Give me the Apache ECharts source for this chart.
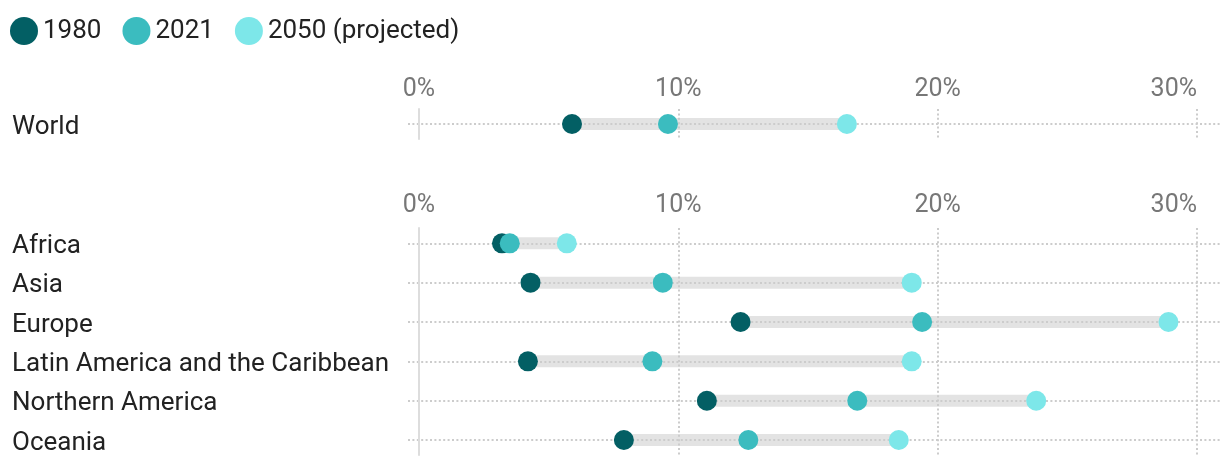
<!DOCTYPE html>
<html>
<head>
<meta charset="utf-8">
<script src="https://cdn.jsdelivr.net/npm/echarts@6/dist/echarts.min.js"></script>
<style>
html,body{margin:0;padding:0;background:#fff;}
#chart{width:1220px;height:466px;}
</style>
</head>
<body>
<div id="chart"></div>
<script>
// ---- data ----
const worldLabel = ['World'];
const world1980 = [5.9];
const world2021 = [9.6];
const world2050 = [16.5];

const regions = ['Africa', 'Asia', 'Europe', 'Latin America and the Caribbean', 'Northern America', 'Oceania'];
const reg1980 = [3.2, 4.3, 12.4, 4.2, 11.1, 7.9];
const reg2021 = [3.5, 9.4, 19.4, 9.0, 16.9, 12.7];
const reg2050 = [5.7, 19.0, 28.9, 19.0, 23.8, 18.5];

const seriesNames = ['1980', '2021', '2050 (projected)'];
const xTicks = [0, 10, 20, 30];

// ---- styling ----
const colors = ['#035f64', '#3bbcbf', '#7de7e9'];
const FONT = 'Roboto';
const dotted = { color: '#cccccc', width: 2, type: [2, 2.4] };

function pts(vals) { return vals.map((v, i) => [v, i]); }
function ranges(a, b, c) {
  return a.map((v, i) => [i, Math.min(v, b[i], c[i]), Math.max(v, b[i], c[i])]);
}
function renderRange(params, api) {
  const y = api.value(0);
  const p1 = api.coord([api.value(1), y]);
  const p2 = api.coord([api.value(2), y]);
  return {
    type: 'rect',
    shape: { x: p1[0], y: p1[1] - 6, width: p2[0] - p1[0], height: 12 },
    style: { fill: '#e3e3e3' }
  };
}

function xAxisDef(gridIndex, margin) {
  return {
    type: 'value', gridIndex, position: 'top',
    min: -0.424, max: 30.887,
    axisLine: { show: false, onZero: false },
    axisTick: { show: false, customValues: xTicks },
    axisLabel: {
      customValues: xTicks, formatter: '{value}%', margin,
      alignMaxLabel: 'right',
      color: '#777', fontSize: 25, fontFamily: FONT
    },
    splitLine: { show: true, lineStyle: dotted }
  };
}
function yAxisDef(gridIndex, labels, min, max) {
  const idx = labels.map((_, i) => i);
  return {
    type: 'value', gridIndex, inverse: true, min, max,
    axisLine: { show: true, onZero: true, lineStyle: { color: '#dddddd', width: 2 } },
    axisTick: { show: false, customValues: idx },
    axisLabel: {
      customValues: idx, formatter: v => '{t|' + labels[Math.round(v)] + '}',
      align: 'left', margin: 396,
      rich: { t: { color: '#222', fontSize: 26, fontFamily: FONT, padding: [6, 0, 0, 0] } },
      color: '#222', fontSize: 26, fontFamily: FONT
    },
    splitLine: { show: true, lineStyle: dotted }
  };
}

const series = [];
[[worldLabel, world1980, world2021, world2050, 0], [regions, reg1980, reg2021, reg2050, 1]].forEach(([labels, a, b, c, g]) => {
  series.push({
    type: 'custom', xAxisIndex: g, yAxisIndex: g, z: -1, silent: true,
    renderItem: renderRange, encode: { x: [1, 2], y: 0 },
    data: ranges(a, b, c)
  });
  [a, b, c].forEach((vals, k) => {
    series.push({
      type: 'scatter', name: seriesNames[k], xAxisIndex: g, yAxisIndex: g,
      symbolSize: 20, itemStyle: { color: colors[k], opacity: 1 }, z: 3 + k,
      data: pts(vals)
    });
  });
});

const chart = echarts.init(document.getElementById('chart'), null, { renderer: 'canvas' });
chart.setOption({
  animation: false,
  color: colors,
  textStyle: { fontFamily: FONT },
  legend: {
    data: seriesNames, left: 5, top: 12, icon: 'circle',
    itemWidth: 28, itemHeight: 28, itemGap: 21,
    textStyle: { fontSize: 26, color: '#222', fontFamily: FONT }
  },
  grid: [
    { left: 408, right: 0, top: 109, height: 30 },
    { left: 408, right: 0, top: 228, height: 227 }
  ],
  xAxis: [xAxisDef(0, 7), xAxisDef(1, 10)],
  yAxis: [yAxisDef(0, worldLabel, -0.5, 0.5), yAxisDef(1, regions, -0.39, 5.38)],
  series
});
</script>
</body>
</html>
